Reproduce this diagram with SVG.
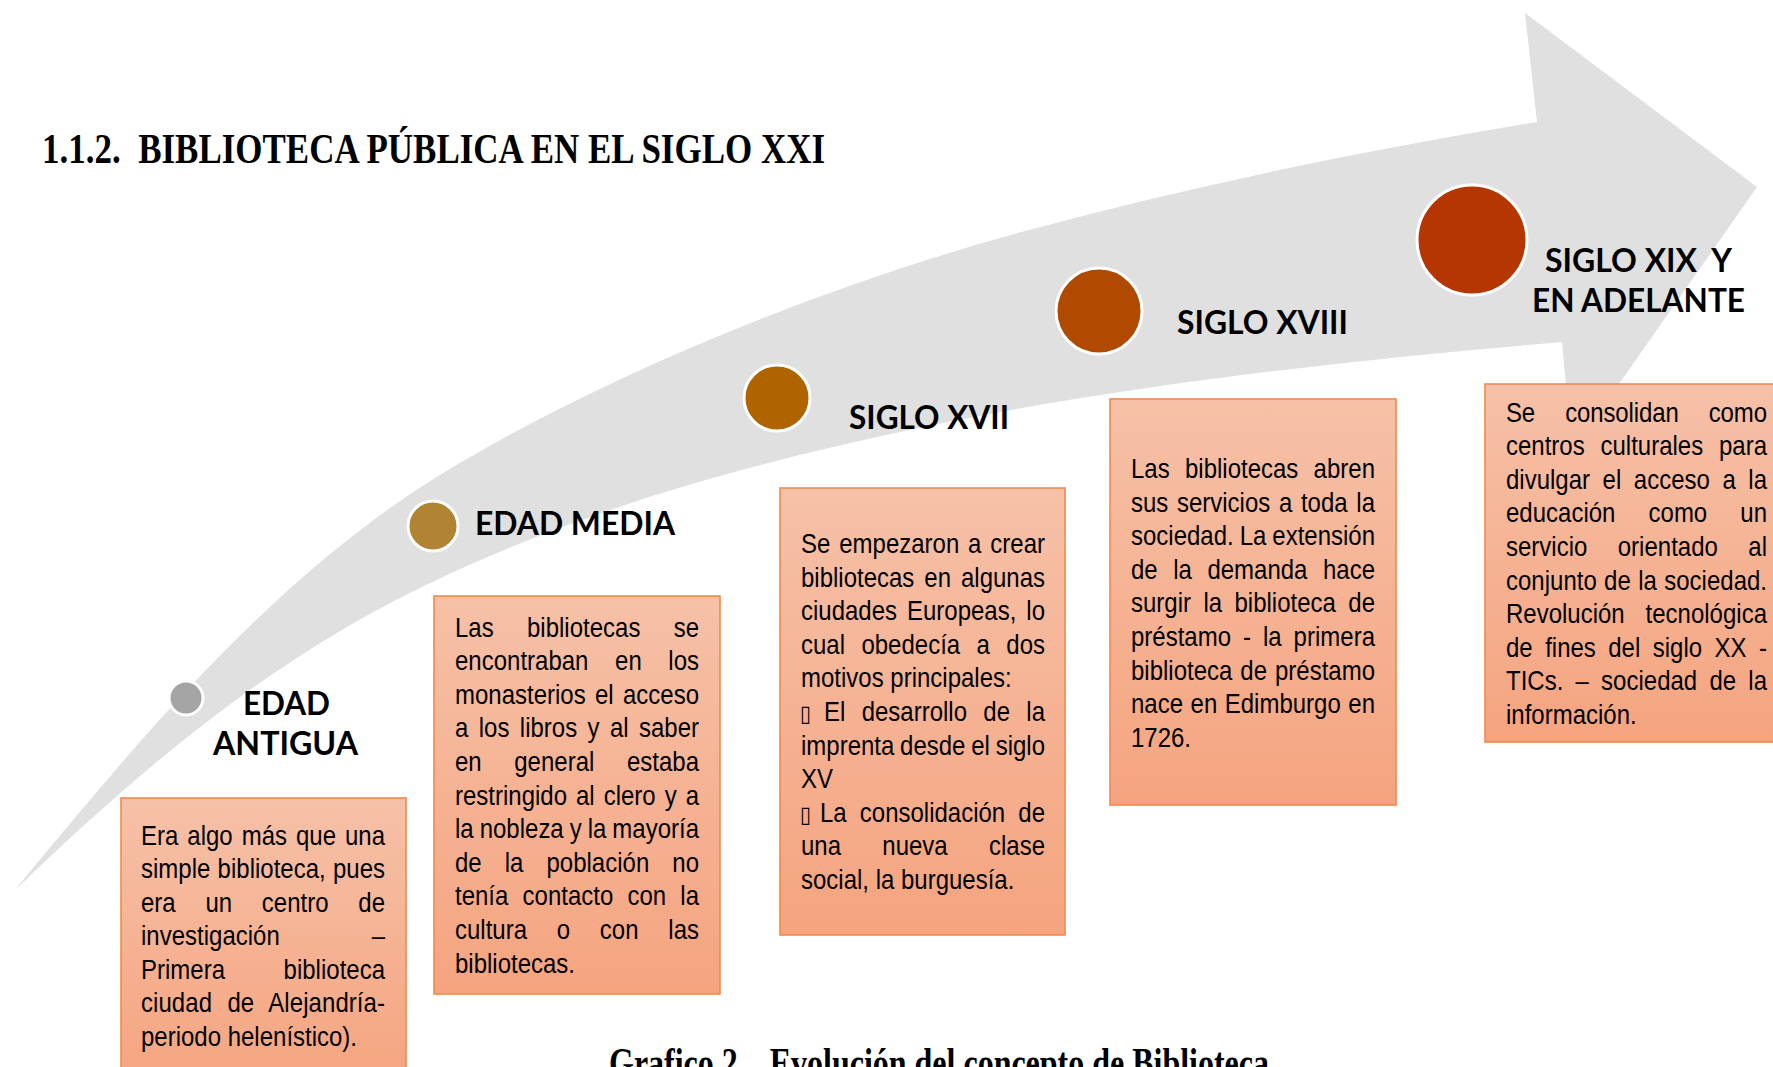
<svg xmlns="http://www.w3.org/2000/svg" width="1773" height="1067" viewBox="0 0 1773 1067">
<defs>
<linearGradient id="boxGrad" x1="0" y1="0" x2="0" y2="1">
<stop offset="0" stop-color="#f6c1a8"/>
<stop offset="1" stop-color="#f5a47f"/>
</linearGradient>
<style>
.box{fill:url(#boxGrad);stroke:#f08a4b;stroke-width:1.6}
.dot{stroke:#ffffff;stroke-width:3}
.lbl{font-family:Lato,"Open Sans","Liberation Sans",sans-serif;font-weight:700;font-size:32px;fill:#000}
.body{font-family:"Liberation Sans",Arial,sans-serif;font-size:24px;fill:#000}
.tofu{font-family:"DejaVu Sans",sans-serif;font-size:20px}
.head{font-family:"Liberation Serif","Times New Roman",serif;font-weight:700;font-size:42px;fill:#000}
</style>
</defs>
<rect width="1773" height="1067" fill="#ffffff"/>
<text class="head" x="42" y="163" textLength="783" lengthAdjust="spacingAndGlyphs">1.1.2.&#160; BIBLIOTECA PÚBLICA EN EL SIGLO XXI</text>
<g id="timeline-arrow">
<path d="M14,891 C143,735 278,571 453,467 C613,372 828,284 1029,230 C1196,185 1366,150 1537,122 L1525,13 L1757,187 L1572,451 L1562,342 C1340,361 1118,385 900,432 C727,469 553,519 396,600 C254,673 129,780 14,891 Z" fill="#e0e0e0"/>
</g>
<g id="connectors"></g>
<g id="node-edad-antigua">
<circle class="dot" cx="186" cy="698" r="17" fill="#a5a5a5"/>
<text class="lbl" x="243" y="715" textLength="87" lengthAdjust="spacingAndGlyphs">EDAD</text>
<text class="lbl" x="213" y="755" textLength="145" lengthAdjust="spacingAndGlyphs">ANTIGUA</text>
<rect class="box" x="121" y="798" width="285" height="290"/>
<g class="body" transform="translate(141,844.5) scale(1,1.12)">
<text x="0" y="0" textLength="244" lengthAdjust="spacing" style="word-spacing:2.3px">Era algo más que una</text>
<text x="0" y="30" textLength="244" lengthAdjust="spacing" style="word-spacing:0.6px">simple biblioteca, pues</text>
<text x="0" y="60" textLength="244" lengthAdjust="spacing" style="word-spacing:23.1px">era un centro de</text>
<text x="0" y="90" textLength="244" lengthAdjust="spacing" style="word-spacing:85.2px">investigación –</text>
<text x="0" y="120" textLength="244" lengthAdjust="spacing" style="word-spacing:51.9px">Primera biblioteca</text>
<text x="0" y="150" textLength="244" lengthAdjust="spacing" style="word-spacing:8.6px">ciudad de Alejandría-</text>
<text x="0" y="180">periodo helenístico).</text>
</g>
</g>
<g id="node-edad-media">
<circle class="dot" cx="433" cy="526" r="25" fill="#b08432"/>
<text class="lbl" x="475" y="535" textLength="200" lengthAdjust="spacingAndGlyphs">EDAD MEDIA</text>
<rect class="box" x="434" y="596" width="286" height="398"/>
<g class="body" transform="translate(455,636.7) scale(1,1.12)">
<text x="0" y="0" textLength="244" lengthAdjust="spacing" style="word-spacing:26.6px">Las bibliotecas se</text>
<text x="0" y="30" textLength="244" lengthAdjust="spacing" style="word-spacing:19.9px">encontraban en los</text>
<text x="0" y="60" textLength="244" lengthAdjust="spacing" style="word-spacing:2.6px">monasterios el acceso</text>
<text x="0" y="90" textLength="244" lengthAdjust="spacing" style="word-spacing:3.7px">a los libros y al saber</text>
<text x="0" y="120" textLength="244" lengthAdjust="spacing" style="word-spacing:25.9px">en general estaba</text>
<text x="0" y="150" textLength="244" lengthAdjust="spacing" style="word-spacing:2.3px">restringido al clero y a</text>
<text x="0" y="180" textLength="244" lengthAdjust="spacing" style="word-spacing:-0.7px">la nobleza y la mayoría</text>
<text x="0" y="210" textLength="244" lengthAdjust="spacing" style="word-spacing:16.4px">de la población no</text>
<text x="0" y="240" textLength="244" lengthAdjust="spacing" style="word-spacing:7.5px">tenía contacto con la</text>
<text x="0" y="270" textLength="244" lengthAdjust="spacing" style="word-spacing:23.1px">cultura o con las</text>
<text x="0" y="300">bibliotecas.</text>
</g>
</g>
<g id="node-siglo-xvii">
<circle class="dot" cx="777" cy="398" r="33" fill="#b06400"/>
<text class="lbl" x="849" y="429" textLength="160" lengthAdjust="spacingAndGlyphs">SIGLO XVII</text>
<rect class="box" x="780" y="488" width="285" height="447"/>
<g class="body" transform="translate(801,553) scale(1,1.12)">
<text x="0" y="0" textLength="244" lengthAdjust="spacing" style="word-spacing:2.2px">Se empezaron a crear</text>
<text x="0" y="30" textLength="244" lengthAdjust="spacing" style="word-spacing:3.3px">bibliotecas en algunas</text>
<text x="0" y="60" textLength="244" lengthAdjust="spacing" style="word-spacing:3.3px">ciudades Europeas, lo</text>
<text x="0" y="90" textLength="244" lengthAdjust="spacing" style="word-spacing:9.7px">cual obedecía a dos</text>
<text x="0" y="120">motivos principales:</text>
<text class="tofu" x="-1" y="150">▯</text>
<text x="23" y="150" textLength="221" lengthAdjust="spacing" style="word-spacing:9.6px">El desarrollo de la</text>
<text x="0" y="180" textLength="244" lengthAdjust="spacing" style="word-spacing:-0.9px">imprenta desde el siglo</text>
<text x="0" y="210">XV</text>
<text class="tofu" x="-1" y="240">▯</text>
<text x="19" y="240" textLength="225" lengthAdjust="spacing" style="word-spacing:6.5px">La consolidación de</text>
<text x="0" y="270" textLength="244" lengthAdjust="spacing" style="word-spacing:34.6px">una nueva clase</text>
<text x="0" y="300">social, la burguesía.</text>
</g>
</g>
<g id="node-siglo-xviii">
<circle class="dot" cx="1099" cy="311" r="43" fill="#b04a00"/>
<text class="lbl" x="1177" y="334" textLength="171" lengthAdjust="spacingAndGlyphs">SIGLO XVIII</text>
<rect class="box" x="1110" y="399" width="286" height="406"/>
<g class="body" transform="translate(1131,478) scale(1,1.12)">
<text x="0" y="0" textLength="244" lengthAdjust="spacing" style="word-spacing:8.6px">Las bibliotecas abren</text>
<text x="0" y="30" textLength="244" lengthAdjust="spacing" style="word-spacing:2px">sus servicios a toda la</text>
<text x="0" y="60" textLength="244" lengthAdjust="spacing" style="word-spacing:-0.7px">sociedad. La extensión</text>
<text x="0" y="90" textLength="244" lengthAdjust="spacing" style="word-spacing:8.9px">de la demanda hace</text>
<text x="0" y="120" textLength="244" lengthAdjust="spacing" style="word-spacing:5.8px">surgir la biblioteca de</text>
<text x="0" y="150" textLength="244" lengthAdjust="spacing" style="word-spacing:5.3px">préstamo - la primera</text>
<text x="0" y="180" textLength="244" lengthAdjust="spacing" style="word-spacing:1.3px">biblioteca de préstamo</text>
<text x="0" y="210" textLength="244" lengthAdjust="spacing" style="word-spacing:0.9px">nace en Edimburgo en</text>
<text x="0" y="240">1726.</text>
</g>
</g>
<g id="node-siglo-xix">
<circle class="dot" cx="1472" cy="240" r="55" fill="#b53600"/>
<text class="lbl" x="1545" y="272" textLength="187" lengthAdjust="spacingAndGlyphs">SIGLO XIX&#160; Y</text>
<text class="lbl" x="1532" y="312" textLength="213" lengthAdjust="spacingAndGlyphs">EN ADELANTE</text>
<rect class="box" x="1485" y="384" width="320" height="358"/>
<g class="body" transform="translate(1506,421.7) scale(1,1.12)">
<text x="0" y="0" textLength="261" lengthAdjust="spacing" style="word-spacing:23.6px">Se consolidan como</text>
<text x="0" y="30" textLength="261" lengthAdjust="spacing" style="word-spacing:9.1px">centros culturales para</text>
<text x="0" y="60" textLength="261" lengthAdjust="spacing" style="word-spacing:5.9px">divulgar el acceso a la</text>
<text x="0" y="90" textLength="261" lengthAdjust="spacing" style="word-spacing:26.4px">educación como un</text>
<text x="0" y="120" textLength="261" lengthAdjust="spacing" style="word-spacing:23.8px">servicio orientado al</text>
<text x="0" y="150" textLength="261" lengthAdjust="spacing" style="word-spacing:0.7px">conjunto de la sociedad.</text>
<text x="0" y="180" textLength="261" lengthAdjust="spacing" style="word-spacing:14.2px">Revolución tecnológica</text>
<text x="0" y="210" textLength="261" lengthAdjust="spacing" style="word-spacing:5.8px">de fines del siglo XX -</text>
<text x="0" y="240" textLength="261" lengthAdjust="spacing" style="word-spacing:5.5px">TICs. – sociedad de la</text>
<text x="0" y="270">información.</text>
</g>
</g>
<text class="head" x="609" y="1077" textLength="660" lengthAdjust="spacingAndGlyphs">Grafico 2.&#160;&#160; Evolución del concepto de Biblioteca</text>
</svg>
